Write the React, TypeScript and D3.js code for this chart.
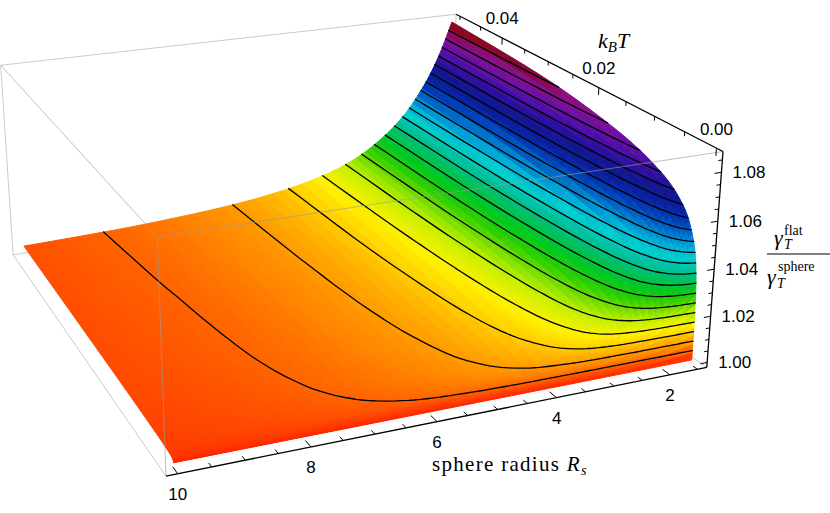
import React from 'react';
import * as d3 from 'd3';

// sphere radius R_s (columns) and k_B T (rows) of the sampled surface
const radii = [1.5, 1.75, 2, 2.5, 3, 3.5, 4, 5, 6, 7, 8, 9, 10];
const temps = [0, 0.00005, 0.0003, 0.001, 0.003, 0.007, 0.015, 0.03, 0.05];
// gamma_T^flat / gamma_T^sphere, one row per temperature
const ratioRows = [
  [1.0, 1.0, 1.0, 1.0, 1.0, 1.0, 1.0, 1.0, 1.0, 1.0, 1.0, 1.0, 1.0],
  [1.0189, 1.0155, 1.0126, 1.0088, 1.0064, 1.0048, 1.0037, 1.0025, 1.0017, 1.0013, 1.001, 1.0008, 1.0006],
  [1.0366, 1.03, 1.0242, 1.0169, 1.0123, 1.0092, 1.0071, 1.0047, 1.0033, 1.0025, 1.0019, 1.0015, 1.0012],
  [1.049, 1.0402, 1.0327, 1.0227, 1.0166, 1.0123, 1.0096, 1.0063, 1.0045, 1.0033, 1.0025, 1.002, 1.0016],
  [1.0611, 1.0501, 1.0406, 1.0282, 1.0205, 1.0152, 1.0118, 1.0078, 1.0055, 1.0041, 1.0031, 1.0025, 1.002],
  [1.0697, 1.0571, 1.0464, 1.0323, 1.0236, 1.0175, 1.0136, 1.009, 1.0063, 1.0047, 1.0036, 1.0028, 1.0023],
  [1.077, 1.0631, 1.0514, 1.0359, 1.0262, 1.0195, 1.0152, 1.01, 1.0071, 1.0052, 1.004, 1.0032, 1.0026],
  [1.083, 1.068, 1.0558, 1.0392, 1.0287, 1.0214, 1.0166, 1.011, 1.0077, 1.0057, 1.0043, 1.0035, 1.0028],
  [1.086, 1.0705, 1.0584, 1.0413, 1.0304, 1.0228, 1.0177, 1.0117, 1.0082, 1.0061, 1.0046, 1.0037, 1.003],
];

const rTicks = [2, 4, 6, 8, 10];
const tTicks = [0, 0.02, 0.04];
const zTicks = [1.0, 1.02, 1.04, 1.06, 1.08];
const meshCount = 20;

const colorStops = [0, 0.024, 0.048, 0.072, 0.12, 0.15, 0.18, 0.23, 0.27, 0.31, 0.357, 0.405, 0.45, 0.5,
  0.547, 0.595, 0.643, 0.69, 0.738, 0.786, 0.833, 0.88, 0.928, 0.955, 0.976, 1];
const colorList = ['#ff2400', '#ff4000', '#ff6400', '#ff8400', '#ffb400', '#ffd400', '#fff000', '#c8f000',
  '#80e000', '#30d000', '#00c820', '#00c060', '#00c0a0', '#00d0d0', '#00a8d8', '#0070c8', '#0040b8',
  '#0a20a0', '#101890', '#2a10a0', '#5010a8', '#7410a0', '#8c1080', '#860838', '#8a0a20', '#800018'];

// view box: unit cube corners -> pixel position of the picture
const cameraPoints = [
  [0, 0, 0, 166, 476], [1, 0, 0, 707, 367], [0, 1, 0, 13, 255], [1, 1, 0, 452, 189],
  [0, 0, 1, 157, 237], [1, 0, 1, 723, 152], [0, 1, 1, 1, 65], [1, 1, 1, 456, 14],
];

function solveLinear(A: number[][], b: number[]) {
  const n = b.length;
  const M = A.map((row, i) => [...row, b[i]]);
  for (let c = 0; c < n; c++) {
    let p = c;
    for (let r = c + 1; r < n; r++) if (Math.abs(M[r][c]) > Math.abs(M[p][c])) p = r;
    [M[c], M[p]] = [M[p], M[c]];
    for (let r = 0; r < n; r++) {
      if (r === c) continue;
      const f = M[r][c] / M[c][c];
      for (let k = c; k <= n; k++) M[r][k] -= f * M[c][k];
    }
  }
  return M.map((row, i) => row[n] / row[i]);
}

function fitCamera(pts: number[][]) {
  const rows: number[][] = [];
  const rhs: number[] = [];
  pts.forEach(([X, Y, Z, x, y]) => {
    rows.push([X, Y, Z, 1, 0, 0, 0, 0, -x * X, -x * Y, -x * Z]); rhs.push(x);
    rows.push([0, 0, 0, 0, X, Y, Z, 1, -y * X, -y * Y, -y * Z]); rhs.push(y);
  });
  const AtA = d3.range(11).map(i => d3.range(11).map(j => d3.sum(rows, r => r[i] * r[j])));
  const Atb = d3.range(11).map(i => d3.sum(rows, (r, k) => r[i] * rhs[k]));
  return solveLinear(AtA, Atb);
}

// monotone cubic (Fritsch-Butland) through the sampled values
function monotone(xs: number[], ys: number[]) {
  const n = xs.length;
  const h = d3.range(n - 1).map(k => xs[k + 1] - xs[k]);
  const d = d3.range(n - 1).map(k => (ys[k + 1] - ys[k]) / h[k]);
  const m = new Array(n).fill(0);
  m[0] = d[0];
  m[n - 1] = d[n - 2];
  for (let k = 1; k < n - 1; k++) {
    if (d[k - 1] * d[k] <= 0) m[k] = 0;
    else {
      const w1 = 2 * h[k] + h[k - 1], w2 = h[k] + 2 * h[k - 1];
      m[k] = (w1 + w2) / (w1 / d[k - 1] + w2 / d[k]);
    }
  }
  return (x: number) => {
    let k = d3.bisectRight(xs, x) - 1;
    k = Math.max(0, Math.min(n - 2, k));
    const t = (x - xs[k]) / h[k];
    const t2 = t * t, t3 = t2 * t;
    return (2 * t3 - 3 * t2 + 1) * ys[k] + (t3 - 2 * t2 + t) * h[k] * m[k]
      + (-2 * t3 + 3 * t2) * ys[k + 1] + (t3 - t2) * h[k] * m[k + 1];
  };
}

const refine = (xs: number[], n: number) =>
  xs.flatMap((x, i) => (i === xs.length - 1 ? [x] : d3.range(n).map(k => x + ((xs[i + 1] - x) * k) / n)));

export default function App() {
  const width = 830, height = 513;
  const cam = fitCamera(cameraPoints);
  const proj = (u: number, v: number, w: number) => {
    const dn = cam[8] * u + cam[9] * v + cam[10] * w + 1;
    return [(cam[0] * u + cam[1] * v + cam[2] * w + cam[3]) / dn, (cam[4] * u + cam[5] * v + cam[6] * w + cam[7]) / dn, dn];
  };
  const farSign = proj(1, 1, 1)[2] > proj(0, 0, 0)[2] ? 1 : -1;

  const uS = d3.scaleLinear().domain([10.17, 1.33]).range([0, 1]);
  const vS = d3.scaleLinear().domain([-0.001, 0.051]).range([0, 1]);
  const wS = d3.scaleLinear().domain([0.9978, 1.0884]).range([0, 1]);
  const P = (r: number, t: number, z: number) => proj(uS(r), vS(t), wS(z));

  const zMin = d3.min(ratioRows.flat())!;
  const zMax = d3.max(ratioRows.flat())!;
  const color = d3.scaleLinear<string>().domain(colorStops.map(s => zMin + s * (zMax - zMin))).range(colorList).clamp(true);

  // fine mesh
  const Tr = refine(temps, 6);
  const Rr = refine(radii, 5);
  const colVals = radii.map((_, j) => {
    const f = monotone(temps, ratioRows.map(row => row[j]));
    return Tr.map(t => f(t));
  });
  const Z = Tr.map((_, i) => {
    const f = monotone(radii, colVals.map(c => c[i]));
    return Rr.map(r => f(r));
  });
  const pts = Tr.map((t, i) => Rr.map((r, j) => P(r, t, Z[i][j])));

  const quads: { d: string; fill: string; depth: number }[] = [];
  for (let i = 0; i < Tr.length - 1; i++) {
    for (let j = 0; j < Rr.length - 1; j++) {
      const c = [pts[i][j], pts[i][j + 1], pts[i + 1][j + 1], pts[i + 1][j]];
      const zAvg = (Z[i][j] + Z[i][j + 1] + Z[i + 1][j + 1] + Z[i + 1][j]) / 4;
      quads.push({
        d: 'M' + c.map(p => `${p[0].toFixed(2)},${p[1].toFixed(2)}`).join('L') + 'Z',
        fill: color(zAvg),
        depth: farSign * d3.mean(c, p => p[2])!,
      });
    }
  }
  quads.sort((a, b) => b.depth - a.depth);

  // contour lines of the ratio (marching squares on the mesh)
  const levels = d3.range(1, meshCount + 1).map(k => zMin + (k * (zMax - zMin)) / (meshCount + 1));
  let contourPath = '';
  levels.forEach(L => {
    for (let i = 0; i < Tr.length - 1; i++) {
      for (let j = 0; j < Rr.length - 1; j++) {
        const cs = [[i, j], [i, j + 1], [i + 1, j + 1], [i + 1, j]];
        const hits: number[][] = [];
        for (let e = 0; e < 4; e++) {
          const [ia, ja] = cs[e], [ib, jb] = cs[(e + 1) % 4];
          const za = Z[ia][ja], zb = Z[ib][jb];
          if ((za < L && zb >= L) || (za >= L && zb < L)) {
            const s = (L - za) / (zb - za);
            const r = Rr[ja] + s * (Rr[jb] - Rr[ja]);
            const t = Tr[ia] + s * (Tr[ib] - Tr[ia]);
            hits.push(P(r, t, L));
          }
        }
        for (let k = 0; k + 1 < hits.length; k += 2) {
          contourPath += `M${hits[k][0].toFixed(2)},${hits[k][1].toFixed(2)}L${hits[k + 1][0].toFixed(2)},${hits[k + 1][1].toFixed(2)}`;
        }
      }
    }
  });

  const seg = (a: number[], b: number[]) => {
    const p = proj(a[0], a[1], a[2]), q = proj(b[0], b[1], b[2]);
    return `M${p[0]},${p[1]}L${q[0]},${q[1]}`;
  };
  const backEdges = [[[0, 1, 0], [1, 1, 0]], [[1, 0, 0], [1, 1, 0]], [[1, 1, 0], [1, 1, 1]],
    [[0, 1, 0], [0, 1, 1]], [[0, 1, 1], [1, 1, 1]], [[0, 0, 0], [0, 1, 0]]];
  const frontEdges = [[[0, 0, 1], [1, 0, 1]], [[0, 0, 0], [0, 0, 1]], [[0, 0, 1], [0, 1, 1]]];

  // ticks
  const rMinor = d3.range(1.5, 10.01, 0.5);
  const tMinor = d3.range(0, 0.0501, 0.005);
  const zMinor = d3.range(1.0, 1.0851, 0.005);
  const isMajor = (x: number, list: number[]) => list.some(m => Math.abs(m - x) < 1e-6);
  let tickPath = '';
  rMinor.forEach(r => {
    const len = isMajor(r, rTicks) ? 0.024 : 0.014;
    tickPath += seg([uS(r), 0, 0], [uS(r), len, 0]);
  });
  tMinor.forEach(t => {
    const len = isMajor(t, tTicks) ? 0.035 : 0.02;
    tickPath += seg([1, vS(t), 1], [1, vS(t), 1 - len]);
  });
  zMinor.forEach(z => {
    const len = isMajor(z, zTicks) ? 0.014 : 0.008;
    tickPath += seg([1, 0, wS(z)], [1 - len, 0, wS(z)]);
  });

  const tickFont = { fontFamily: 'Liberation Sans, Arial, sans-serif', fontSize: 17 };
  const serif = 'Liberation Serif, Times New Roman, serif';

  return (
    <svg width={width} height={height} style={{ position: 'absolute', left: 0, top: 0, background: '#fff' }}>
      <g fill="none" stroke="#c4c4c4" strokeWidth={0.9}>
        {backEdges.map((e, k) => <path key={k} d={seg(e[0], e[1])} />)}
      </g>
      <g>
        {quads.map((q, k) => <path key={k} d={q.d} fill={q.fill} stroke={q.fill} strokeWidth={1} strokeLinejoin="round" />)}
      </g>
      <path d={contourPath} fill="none" stroke="#000" strokeWidth={1.3} strokeLinecap="round" />
      <g fill="none" stroke="#9a9a9a" strokeOpacity={0.7} strokeWidth={0.9}>
        {frontEdges.map((e, k) => <path key={k} d={seg(e[0], e[1])} />)}
      </g>
      <g fill="none" stroke="#000" strokeWidth={1.3}>
        <path d={seg([0, 0, 0], [1, 0, 0])} />
        <path d={seg([1, 0, 0], [1, 0, 1])} />
        <path d={seg([1, 0, 1], [1, 1, 1])} />
        <path d={tickPath} strokeWidth={1} />
      </g>
      <g {...tickFont} fill="#000">
        {rTicks.map(r => {
          const p = proj(uS(r), 0, 0);
          return <text key={r} x={p[0]} y={p[1] + 21} textAnchor="middle" dominantBaseline="central">{r}</text>;
        })}
        {tTicks.map(t => {
          const p = proj(1, vS(t), 1);
          return <text key={t} x={p[0]} y={p[1] - 19} textAnchor="middle" dominantBaseline="central">{t.toFixed(2)}</text>;
        })}
        {zTicks.map(z => {
          const p = proj(1, 0, wS(z));
          return <text key={z} x={p[0] + 11} y={p[1]} dominantBaseline="central">{z.toFixed(2)}</text>;
        })}
      </g>
      <text x={432} y={471} fontFamily={serif} fontSize={21} letterSpacing={1.3}>
        sphere radius <tspan fontStyle="italic">R</tspan><tspan fontStyle="italic" fontSize={14} dy={4}>s</tspan>
      </text>
      <text x={598} y={48} fontFamily={serif} fontSize={22} fontStyle="italic">
        k<tspan fontSize={15} dy={4} fontStyle="italic">B</tspan><tspan dy={-4}>T</tspan>
      </text>
      <g fontFamily={serif}>
        <text x={774} y={245} fontSize={22} fontStyle="italic">γ</text>
        <text x={784} y={249} fontSize={14} fontStyle="italic">T</text>
        <text x={784} y={235} fontSize={14}>flat</text>
        <line x1={767} x2={836} y1={254} y2={254} stroke="#000" strokeWidth={1} />
        <text x={767} y={284} fontSize={22} fontStyle="italic">γ</text>
        <text x={777} y={288} fontSize={14} fontStyle="italic">T</text>
        <text x={778} y={271} fontSize={14}>sphere</text>
      </g>
    </svg>
  );
}
